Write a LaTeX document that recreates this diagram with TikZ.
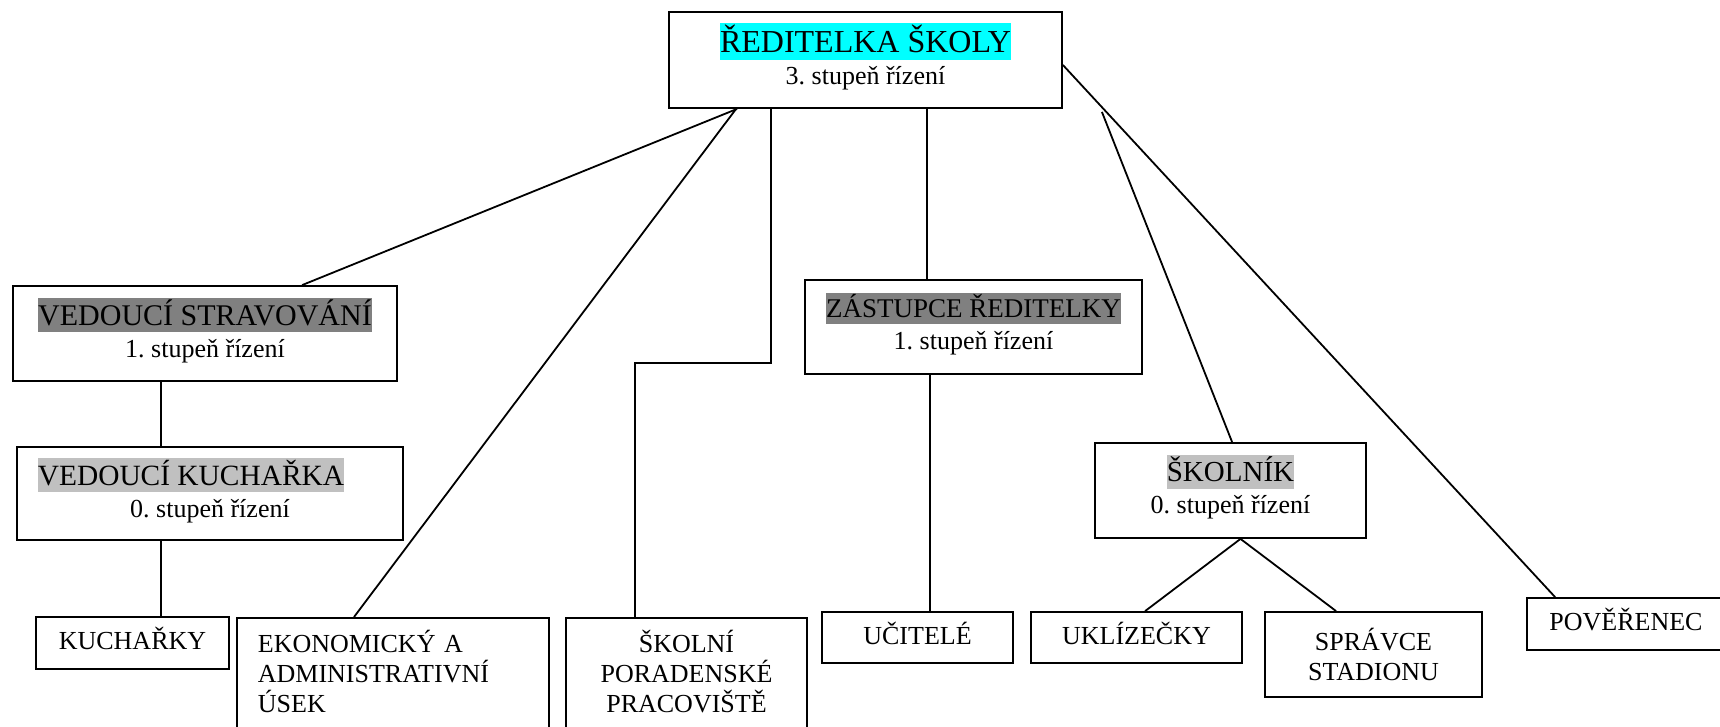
\documentclass[tikz,border=0pt]{standalone}
\usepackage{fontspec}
\setmainfont{Liberation Serif}
\frenchspacing
\definecolor{hlcyan}{RGB}{0,255,255}
\definecolor{hldark}{RGB}{128,128,128}
\definecolor{hllight}{RGB}{192,192,192}
\newcommand\hlbox[2]{{\setlength{\fboxsep}{0pt}\colorbox{#1}{\rule[-0.23em]{0pt}{1.15em}#2}}}
\newcommand\HeadText[5][0pt]{%
    {\fontsize{#3}{16}\selectfont\hlbox{#2}{#4}\hspace*{#1}}\\
    #5. stupeň řízení\rule[-6pt]{0pt}{0pt}%
}

\begin{document}
\begin{tikzpicture}[x=0.5pt,y=-0.5pt,
    box/.style={draw,line width=0.9pt,inner sep=0pt,align=center,
        font=\fontsize{13}{15}\selectfont},
    head/.style={box,font=\fontsize{13}{16}\selectfont},
    leaf/.style={box,text height=0.66em,text depth=0pt,minimum height=26pt},
    tallbox/.style={box,anchor=north,inner ysep=6pt}]
    \useasboundingbox (0,0) rectangle (1720,727);
    \clip (0,0) rectangle (1720,727);
    % heads
    \node[head,minimum width=196.5pt,minimum height=48pt] (top) at (865.5,60)
        {\HeadText{hlcyan}{16}{ŘEDITELKA ŠKOLY}{3}};
    \node[head,minimum width=192pt,minimum height=47.5pt] (vs) at (205,333.5)
        {\HeadText{hldark}{15}{VEDOUCÍ STRAVOVÁNÍ}{1}};
    \node[head,minimum width=193pt,minimum height=46.5pt] (vk) at (210,493.5)
        {\HeadText[19pt]{hllight}{14.7}{VEDOUCÍ KUCHAŘKA}{0}};
    \node[head,minimum width=168.5pt,minimum height=47pt] (zr) at (973.5,327)
        {\HeadText{hldark}{13.5}{ZÁSTUPCE ŘEDITELKY}{1}};
    \node[head,minimum width=135.5pt,minimum height=47.5pt] (sk) at (1230.5,490.5)
        {\HeadText{hllight}{14.5}{ŠKOLNÍK}{0}};
    % bottom row
    \node[leaf,minimum width=96.5pt] (kuch) at (132.5,643) {KUCHAŘKY};
    \node[tallbox,anchor=north west,align=left,inner xsep=10.5pt,text width=135pt] (eko) at (236,617)
        {EKONOMICKÝ A\\ADMINISTRATIVNÍ\\ÚSEK\rule[-12pt]{0pt}{0pt}};
    \node[tallbox,minimum width=120.5pt] (spp) at (686.5,617)
        {ŠKOLNÍ\\PORADENSKÉ\\PRACOVIŠTĚ\rule[-12pt]{0pt}{0pt}};
    \node[leaf,minimum width=95.5pt,minimum height=25.5pt] (uc) at (917.5,637.5) {UČITELÉ};
    \node[leaf,minimum width=105.5pt,minimum height=25.5pt] (ukl) at (1136.5,637.5) {UKLÍZEČKY};
    \node[box,minimum width=108.5pt,minimum height=42.5pt] (spr) at (1373.5,654.5) {SPRÁVCE\\STADIONU};
    \node[leaf,minimum width=99pt] (pov) at (1626,624) {POVĚŘENEC};
    % connectors
    \begin{scope}[line width=0.9pt]
        \draw ([xshift=34.5pt]top.south west) -- ([xshift=145pt]vs.north west);
        \draw ([xshift=34pt]top.south west) -- ([xshift=59pt]eko.north west);
        \draw ([xshift=51.5pt]top.south west) -- ++(0,254) -| ([xshift=35pt]spp.north west);
        \draw ([xshift=129.5pt]top.south west) -- ([xshift=129.5pt]top.south west |- zr.north);
        \draw ([xshift=63pt]zr.south west) -- ([xshift=63pt]zr.south west |- uc.north);
        \draw ([xshift=19.5pt,yshift=-1.5pt]top.south east) -- ([xshift=69pt]sk.north west);
        \draw ([yshift=-2.5pt]top.east) -- ([xshift=14.5pt]pov.north west);
        \draw ([xshift=5pt]sk.south) -- ([xshift=57.5pt]ukl.north west);
        \draw ([xshift=5pt]sk.south) -- ([xshift=36pt]spr.north west);
        \draw ([xshift=74.5pt]vs.south west) -- ([xshift=74.5pt]vs.south west |- vk.north);
        \draw ([xshift=72.5pt]vk.south west) -- ([xshift=72.5pt]vk.south west |- kuch.north);
    \end{scope}
\end{tikzpicture}
\end{document}
